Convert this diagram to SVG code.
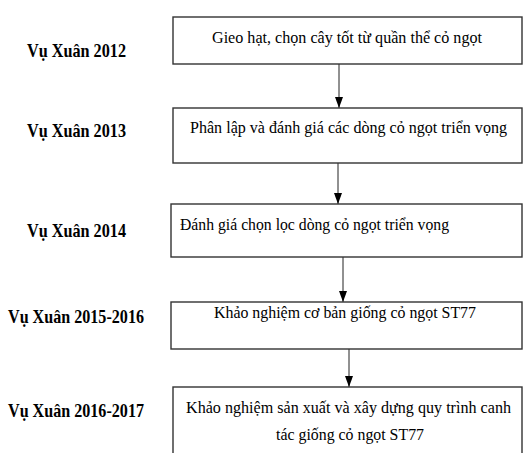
<svg xmlns="http://www.w3.org/2000/svg" width="525" height="453" viewBox="0 0 525 453">
<defs>
<marker id="ah" markerUnits="userSpaceOnUse" markerWidth="11" markerHeight="8" refX="11" refY="4" orient="auto">
<path d="M0,0 L11,4 L0,8 z" fill="#000"/>
</marker>
<style>
.box{fill:#fff;stroke:#333;stroke-width:1.4}
.lbl{font-family:"Liberation Serif","Times New Roman",serif;font-weight:bold;font-size:19px;fill:#000}
.txt{font-family:"Liberation Serif","Times New Roman",serif;font-size:17px;fill:#000}
.con{stroke:#222;stroke-width:1;fill:none;marker-end:url(#ah)}
</style>
</defs>
<rect width="525" height="453" fill="#fff"/>
<g id="labels">
<text class="lbl" x="27" y="57" textLength="99" lengthAdjust="spacingAndGlyphs">Vụ Xuân 2012</text>
<text class="lbl" x="27" y="137" textLength="99" lengthAdjust="spacingAndGlyphs">Vụ Xuân 2013</text>
<text class="lbl" x="27" y="237" textLength="99" lengthAdjust="spacingAndGlyphs">Vụ Xuân 2014</text>
<text class="lbl" x="8" y="323" textLength="136" lengthAdjust="spacingAndGlyphs">Vụ Xuân 2015-2016</text>
<text class="lbl" x="8" y="417" textLength="136" lengthAdjust="spacingAndGlyphs">Vụ Xuân 2016-2017</text>
</g>
<g id="connectors">
<line class="con" x1="339" y1="64" x2="339" y2="108"/>
<line class="con" x1="338" y1="163" x2="338" y2="204"/>
<line class="con" x1="343" y1="257" x2="343" y2="302"/>
<line class="con" x1="349" y1="349" x2="349" y2="387"/>
</g>
<g id="n1">
<rect class="box" x="173" y="17" width="349" height="47"/>
<text class="txt" x="212" y="43" textLength="270" lengthAdjust="spacingAndGlyphs">Gieo hạt, chọn cây tốt từ quần thể cỏ ngọt</text>
</g>
<g id="n2">
<rect class="box" x="173" y="108" width="349" height="55"/>
<text class="txt" x="190" y="133" textLength="317" lengthAdjust="spacingAndGlyphs">Phân lập và đánh giá các dòng cỏ ngọt triển vọng</text>
</g>
<g id="n3">
<rect class="box" x="171" y="204" width="351" height="53"/>
<text class="txt" x="180" y="230" textLength="269" lengthAdjust="spacingAndGlyphs">Đánh giá chọn lọc dòng cỏ ngọt triển vọng</text>
</g>
<g id="n4">
<rect class="box" x="171" y="302" width="351" height="47"/>
<text class="txt" x="214" y="318" textLength="262" lengthAdjust="spacingAndGlyphs">Khảo nghiệm cơ bản giống cỏ ngọt ST77</text>
</g>
<g id="n5">
<rect class="box" x="173" y="387" width="349" height="75"/>
<text class="txt" x="186" y="413" font-size="16" textLength="325" lengthAdjust="spacingAndGlyphs">Khảo nghiệm sản xuất và xây dựng quy trình canh</text>
<text class="txt" x="276" y="440" textLength="148" lengthAdjust="spacingAndGlyphs">tác giống cỏ ngọt ST77</text>
</g>
</svg>
